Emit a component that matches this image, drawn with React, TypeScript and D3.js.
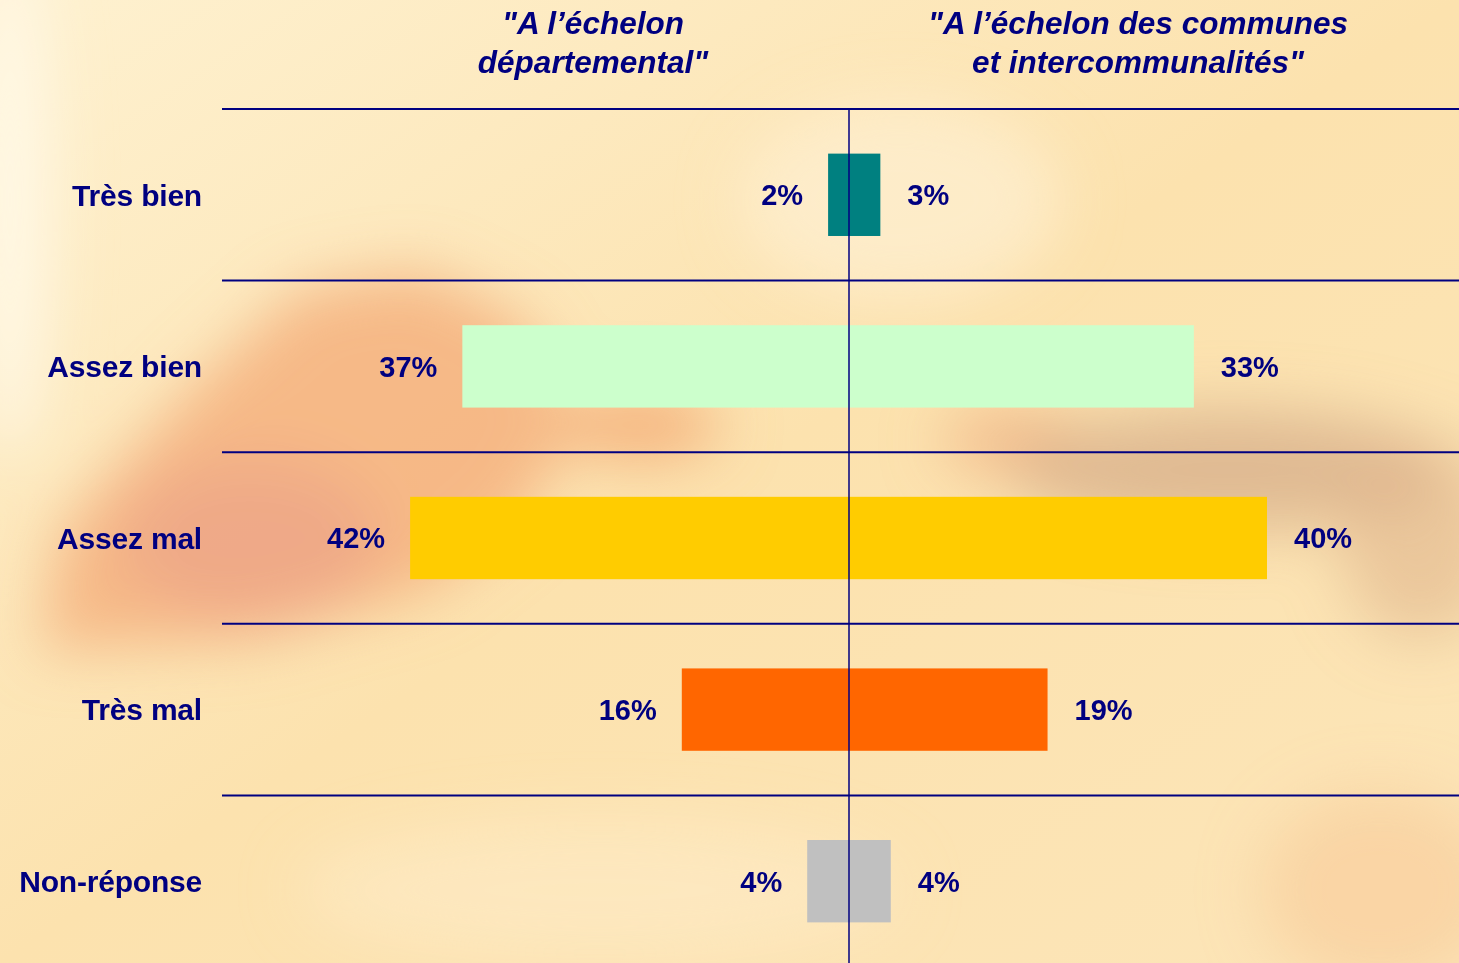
import React from "react";
import * as d3 from "d3";

const categories = ["Très bien", "Assez bien", "Assez mal", "Très mal", "Non-réponse"];
const departemental = [2, 37, 42, 16, 4];
const communes = [3, 33, 40, 19, 4];
const barColors = ["#008080", "#CCFFCC", "#FFCC00", "#FF6600", "#C0C0C0"];
const titleLeft = ["\"A l’échelon", "départemental\""];
const titleRight = ["\"A l’échelon des communes", "et intercommunalités\""];

const W = 1459;
const H = 963;
const NAVY = "#000080";
const FONT = "'Liberation Sans', Arial, sans-serif";

export default function App() {
  const cx = 849;
  const x = d3.scaleLinear().domain([0, 100]).range([0, 1045]);
  const y = d3.scaleBand<string>().domain(categories).range([109, 967]).padding(0);
  const bh = y.bandwidth() * 0.48;

  return (
    <div style={{ position: "fixed", left: 0, top: 0, width: W, height: H, overflow: "hidden" }}>
      <svg width={W} height={H} style={{ display: "block" }}>
        <defs>
          <linearGradient id="bg" x1="0" y1="0" x2="1" y2="1">
            <stop offset="0" stopColor="#FEF1D0" />
            <stop offset="0.5" stopColor="#FCE2AE" />
            <stop offset="1" stopColor="#FCE5B8" />
          </linearGradient>
          <filter id="blur" x="-50%" y="-50%" width="200%" height="200%">
            <feGaussianBlur stdDeviation="30" />
          </filter>
        </defs>
        <rect width={W} height={H} fill="url(#bg)" />
        <g filter="url(#blur)">
          <ellipse cx={10} cy={200} rx={40} ry={260} fill="#FFF8E8" opacity={0.9} />
          <path d="M40,650 L60,530 L200,380 L300,290 L420,270 L520,320 L580,420 L520,520 L430,590 L250,640 Z" fill="#F5B07E" opacity={0.85} />
          <ellipse cx={250} cy={540} rx={130} ry={80} fill="#EEA488" opacity={0.75} />
          <ellipse cx={640} cy={425} rx={80} ry={35} fill="#F3A670" opacity={0.8} />
          <ellipse cx={1010} cy={440} rx={70} ry={35} fill="#EFA87A" opacity={0.6} />
          <ellipse cx={1230} cy={470} rx={220} ry={60} fill="#D6AC88" opacity={0.75} />
          <ellipse cx={1420} cy={540} rx={80} ry={100} fill="#DFB48C" opacity={0.6} />
          <ellipse cx={1380} cy={890} rx={120} ry={100} fill="#F8C898" opacity={0.55} />
          <ellipse cx={900} cy={200} rx={160} ry={100} fill="#FEF0D2" opacity={0.7} />
          <ellipse cx={600} cy={890} rx={300} ry={70} fill="#FEEBC6" opacity={0.6} />
        </g>

        {categories.map((c) => (
          <line key={c} x1={222} x2={W} y1={y(c)!} y2={y(c)!} stroke={NAVY} strokeWidth={2} />
        ))}

        {categories.map((c, i) => {
          const yc = y(c)! + y.bandwidth() / 2;
          return (
            <rect key={c} x={cx - x(departemental[i])} y={yc - bh / 2} width={x(departemental[i]) + x(communes[i])} height={bh} fill={barColors[i]} />
          );
        })}

        <line x1={cx} x2={cx} y1={y(categories[0])!} y2={H} stroke={NAVY} strokeWidth={1.5} />

        {categories.map((c, i) => {
          const yc = y(c)! + y.bandwidth() / 2;
          return (
            <g key={c} fontFamily={FONT} fontWeight="bold" fill={NAVY}>
              <text x={202} y={yc} dy="0.36em" textAnchor="end" fontSize={30} letterSpacing={-0.2}>{c}</text>
              <text x={cx - x(departemental[i]) - 25} y={yc} dy="0.36em" textAnchor="end" fontSize={29}>{departemental[i]}%</text>
              <text x={cx + x(communes[i]) + 27} y={yc} dy="0.36em" textAnchor="start" fontSize={29}>{communes[i]}%</text>
            </g>
          );
        })}

        <g fontFamily={FONT} fontWeight="bold" fontStyle="italic" fill={NAVY} fontSize={31.5} textAnchor="middle">
          {titleLeft.map((t, i) => (
            <text key={t} x={593} y={23 + i * 39} dy="0.35em">{t}</text>
          ))}
          {titleRight.map((t, i) => (
            <text key={t} x={1138} y={23 + i * 39} dy="0.35em">{t}</text>
          ))}
        </g>
      </svg>
    </div>
  );
}
